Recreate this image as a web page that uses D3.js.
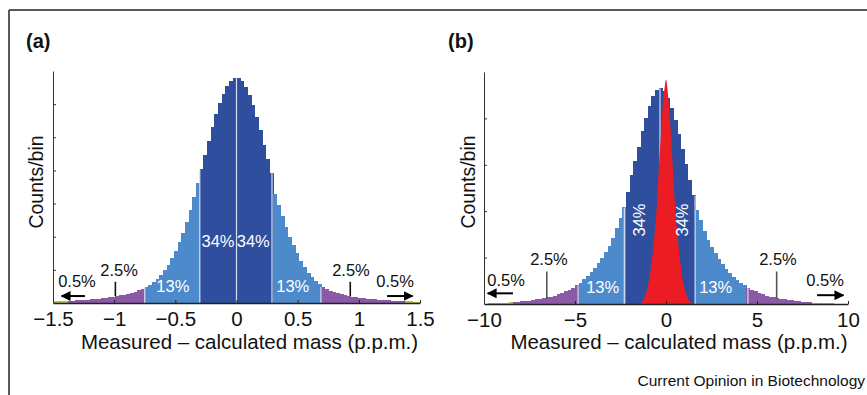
<!DOCTYPE html>
<html>
<head>
<meta charset="utf-8">
<script src="https://cdnjs.cloudflare.com/ajax/libs/d3/7.8.5/d3.min.js"></script>
<style>
body{margin:0;background:#fff;}
text{font-family:"Liberation Sans",Arial,Helvetica,sans-serif;}
</style>
</head>
<body>
<svg id="chart" width="867" height="395"></svg>
<script>

// ---- panel (a) : histogram, bins of 0.03 p.p.m. from -1.5 to 1.5
var binA_start=-1.5, binA_width=0.03;
var countsA=[
 .048,.052,.056,.061,.066,.073,.079,.086,.094,.103,
 .112,.122,.133,.145,.16,.17,.19,.21,.23,.25,
 .28,.31,.34,.38,.43,.49,.55,.64,.73,.85,
 .99,1.16,1.35,1.57,1.83,2.12,2.45,2.81,3.20,3.61,
 4.03,4.46,4.89,5.31,5.69,6.03,6.32,6.55,6.71,6.79,
 6.80,6.70,6.52,6.28,5.98,5.62,5.22,4.78,4.34,3.92,
 3.30,2.95,2.62,2.30,2.00,1.74,1.50,1.28,1.09,0.92,
 0.78,0.66,0.56,0.48,0.42,0.37,0.33,0.29,0.26,0.23,
 0.21,0.19,0.17,0.155,0.14,0.13,0.12,0.11,0.10,0.092,
 0.085,0.078,0.072,0.066,0.061,0.056,0.052,0.048,0.045,0.042
];
var zoneEdgesA=[-1.5,-1.38,-0.75,-0.3,0,0.29,0.69,1.38,1.5];
var linesA=[-0.75,-0.3,0,0.29,0.69];
var ticksA=[-1.5,-1,-0.5,0,0.5,1,1.5];
var yTicksA=[1,2,3,4,5,6];
var tailTicksA=[-0.99,0.93];

// ---- panel (b) : histogram, bins of 0.2 p.p.m. from -10 to 10
var binB_start=-10, binB_width=0.2;
var countsB=[
 .010,.011,.013,.015,.019,.023,.028,.034,.040,.048,
 .057,.065,.075,.085,.10,.115,.13,.145,.16,.18,
 .21,.23,.27,.30,.35,.40,.45,.53,.60,.68,
 .77,.88,.99,1.12,1.26,1.43,1.63,1.86,2.08,2.42,
 2.77,3.09,3.38,3.72,4.01,4.26,4.48,4.61,4.65,
 4.58,4.44,4.22,3.96,3.66,3.34,3.02,2.68,2.34,2.02,
 1.80,1.58,1.39,1.23,1.09,0.97,0.86,0.76,0.67,0.59,
 0.52,0.45,0.40,0.35,0.30,0.27,0.23,0.21,0.18,0.16,
 0.145,0.13,0.115,0.10,0.088,0.077,0.067,0.058,0.050,0.042,
 0.035,0.029,0.024,0.020,0.016,0.013,0.011,0.010,0.009,0.008,0.007
];
var zoneEdgesB=[-10,-8.3,-4.83,-2.29,-0.33,1.6,4.5,8.0,10];
var linesB=[-4.83,-2.29,-0.33,1.6,4.5];
var ticksB=[-10,-5,0,5,10];
var yTicksB=[1,2,3,4];
var tailTicksB=[-6.55,6.08];

// narrow (red) distribution in panel (b)
var redX=[-1.45,-1.2,-1.0,-0.8,-0.64,-0.5,-0.4,-0.3,-0.17,-0.08,0,0.08,0.15,0.3,0.37,0.5,0.64,0.8,1.0,1.2,1.47];
var redY=[0,0.12,0.37,0.85,1.45,2.15,2.88,3.5,4.32,4.65,4.84,4.65,4.32,3.5,2.95,2.1,1.45,0.85,0.37,0.12,0];

var zoneColors=["#b3c24a","#8b5aa6","#4d8acb","#2f4e9e","#2f4e9e","#4d8acb","#8b5aa6","#b3c24a"];

var svg=d3.select("#chart");

// frame
svg.append("line").attr("x1",9).attr("x2",867).attr("y1",10).attr("y2",10).attr("stroke","#222").attr("stroke-width",1.5);
svg.append("line").attr("x1",9).attr("x2",9).attr("y1",10).attr("y2",395).attr("stroke","#222").attr("stroke-width",1.5);

svg.append("defs").append("marker")
    .attr("id","arrowHead")
    .attr("viewBox","0 0 10 10")
    .attr("refX",9).attr("refY",5)
    .attr("markerWidth",5).attr("markerHeight",5)
    .attr("markerUnits","strokeWidth")
    .attr("orient","auto")
    .append("path").attr("d","M0,0 L10,5 L0,10 z").attr("fill","#000");

var fmt=function(d){ return (d<0?"\u2212":"")+Math.abs(d); };

function zoneOf(v,edges){
    for(var z=0;z<edges.length-1;z++){
        if(v>=edges[z] && v<edges[z+1]) return z;
    }
    return edges.length-2;
}

function drawPanel(p){

    var g=svg.append("g");
    var x=p.x, y=p.y;

    var bins=p.counts.map(function(c,i){
        var x0=p.start+i*p.width;
        return {x0:x0, x1:x0+p.width, c:c};
    });

    g.selectAll(".bar").data(bins).enter().append("rect")
        .attr("class","bar")
        .attr("shape-rendering","crispEdges")
        .attr("x",function(d){ return x(d.x0); })
        .attr("width",function(d){ return x(d.x1)-x(d.x0)+0.6; })
        .attr("y",function(d){ return y(d.c); })
        .attr("height",function(d){ return y(0)-y(d.c); })
        .attr("fill",function(d){ return zoneColors[zoneOf((d.x0+d.x1)/2,p.edges)]; });

    // zone separators
    g.selectAll(".sep").data(p.lines).enter().append("line")
        .attr("x1",function(d){ return x(d); })
        .attr("x2",function(d){ return x(d); })
        .attr("y1",y(0))
        .attr("y2",function(d){
            var i=Math.floor((d-p.start)/p.width);
            return y(p.counts[Math.max(0,Math.min(p.counts.length-1,i))]);
        })
        .attr("stroke","#d6def2")
        .attr("stroke-width",1.2);

    if(p.red){
        var pts=p.red.x.map(function(v,i){ return [v,p.red.y[i]]; });
        g.append("path").datum(pts)
            .attr("d",d3.area().x(function(d){ return x(d[0]); }).y0(y(0)).y1(function(d){ return y(d[1]); }).curve(d3.curveMonotoneX))
            .attr("fill","#ec1c24");
    }

    // axes
    var ax=g.append("g").attr("transform","translate(0,"+y(0)+")")
        .call(d3.axisBottom(x).tickValues(p.ticks).tickSizeInner(-3).tickSizeOuter(0).tickPadding(8).tickFormat(fmt));
    ax.select(".domain").attr("stroke","#222").attr("stroke-width",1.4);
    ax.selectAll(".tick line").attr("stroke","#222");
    ax.selectAll("text").style("font-size","20.5px").attr("fill","#111").style("font-family","'Liberation Sans',Arial,sans-serif");

    var ay=g.append("g").attr("transform","translate("+x.range()[0]+",0)")
        .call(d3.axisLeft(y).tickValues(p.yTicks).tickSizeInner(-3).tickSizeOuter(0).tickFormat(""));
    ay.select(".domain").attr("stroke","#333").attr("stroke-width",1);
    ay.selectAll(".tick line").attr("stroke","#333");

    // titles
    g.append("text").attr("x",p.labelX).attr("y",48).text(p.label)
        .style("font-size","20px").style("font-weight","bold").attr("fill","#111");

    g.append("text")
        .attr("transform","translate("+p.yTitleX+",182) rotate(-90)")
        .attr("text-anchor","middle")
        .style("font-size","19.5px").attr("fill","#111")
        .text("Counts/bin");

    g.append("text").attr("x",(x.range()[0]+x.range()[1])/2+13).attr("y",349)
        .attr("text-anchor","middle")
        .style("font-size","20.5px").attr("fill","#111")
        .text("Measured \u2013 calculated mass (p.p.m.)");

    // tail markers
    g.selectAll(".tail").data(p.tailTicks).enter().append("line")
        .attr("x1",function(d){ return x(d); }).attr("x2",function(d){ return x(d); })
        .attr("y1",y(p.tailY[0])).attr("y2",y(p.tailY[1]))
        .attr("stroke",p.tailColor).attr("stroke-width",1.6);

    p.arrows.forEach(function(a){
        g.append("line")
            .attr("x1",x(a[0])).attr("x2",x(a[1]))
            .attr("y1",y(a[2])).attr("y2",y(a[2]))
            .attr("stroke","#000").attr("stroke-width",2)
            .attr("marker-end","url(#arrowHead)");
    });

    p.notes.forEach(function(n){
        var t=g.append("text")
            .attr("text-anchor","middle")
            .style("font-size","16.5px")
            .attr("fill",n.white?"#ffffff":"#111")
            .text(n.t);
        if(n.rot){
            t.attr("dominant-baseline","central")
             .attr("transform","translate("+x(n.x)+","+y(n.y)+") rotate(-90)");
        }else{
            t.attr("x",x(n.x)).attr("y",y(n.y));
        }
    });
}

drawPanel({
    x:d3.scaleLinear().domain([-1.5,1.5]).range([53,420]),
    y:d3.scaleLinear().domain([0,7]).range([303,71]),
    start:binA_start, width:binA_width, counts:countsA,
    edges:zoneEdgesA, lines:linesA, ticks:ticksA, yTicks:yTicksA,
    label:"(a)", labelX:26, yTitleX:43,
    tailTicks:tailTicksA, tailY:[0.21,0.64], tailColor:"#111",
    arrows:[[-1.239,-1.43,0.21],[1.231,1.44,0.21]],
    notes:[
        {t:"34%",x:-0.151,y:1.69,white:true},
        {t:"34%",x:0.137,y:1.69,white:true},
        {t:"13%",x:-0.52,y:0.34,white:true},
        {t:"13%",x:0.46,y:0.34,white:true},
        {t:"2.5%",x:-0.96,y:0.81},
        {t:"2.5%",x:0.936,y:0.81},
        {t:"0.5%",x:-1.304,y:0.48},
        {t:"0.5%",x:1.296,y:0.48}
    ]
});

drawPanel({
    x:d3.scaleLinear().domain([-10,10]).range([484,848]),
    y:d3.scaleLinear().domain([0,5]).range([304,72]),
    start:binB_start, width:binB_width, counts:countsB,
    edges:zoneEdgesB, lines:linesB, ticks:ticksB, yTicks:yTicksB,
    red:{x:redX,y:redY},
    label:"(b)", labelX:448, yTitleX:475,
    tailTicks:tailTicksB, tailY:[0.11,0.70], tailColor:"#555",
    arrows:[[-8.41,-9.8,0.23],[8.30,9.75,0.19]],
    notes:[
        {t:"34%",x:-1.48,y:1.81,white:true,rot:true},
        {t:"34%",x:0.86,y:1.81,white:true,rot:true},
        {t:"13%",x:-3.48,y:0.24,white:true},
        {t:"13%",x:2.73,y:0.24,white:true},
        {t:"2.5%",x:-6.43,y:0.84},
        {t:"2.5%",x:6.15,y:0.84},
        {t:"0.5%",x:-8.79,y:0.39},
        {t:"0.5%",x:8.74,y:0.39}
    ]
});

svg.append("text").attr("x",865).attr("y",386).attr("text-anchor","end")
    .style("font-size","15.5px").attr("fill","#111")
    .text("Current Opinion in Biotechnology");

</script>
</body>
</html>
